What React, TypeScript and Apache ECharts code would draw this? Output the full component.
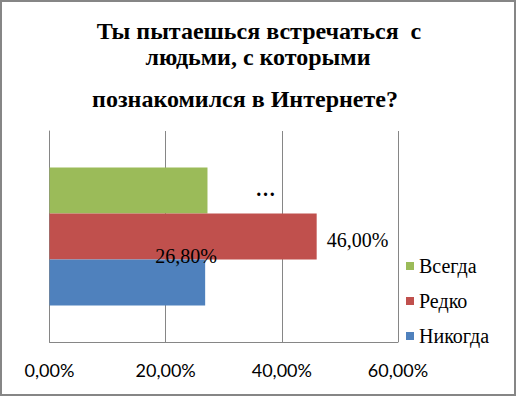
import React, { useEffect, useRef } from "react";
import * as echarts from "echarts";

const categories = ["Q"];
const seriesNames = ["Всегда", "Редко", "Никогда"];
const seriesColors = ["#9BBB59", "#C0504D", "#4F81BD"];
const valAlways = [27.2];
const valRarely = [46.0];
const valNever = [26.8];
const titleLines = ["Ты пытаешься встречаться  с", "людьми, с которыми", "познакомился в Интернете?"];
const axisMin = 0;
const axisMax = 60;
const axisStep = 20;

const pct = (v: number) => v.toFixed(2).replace(".", ",") + "%";

export default function App() {
  const ref = useRef<HTMLDivElement>(null);
  useEffect(() => {
    if (!ref.current) return;
    const chart = echarts.init(ref.current, undefined, { renderer: "svg" });
    const serif = "Liberation Serif";
    const labelFont = { fontFamily: serif, fontSize: 20, color: "#000" };
    chart.setOption({
      animation: false,
      backgroundColor: "#fff",
      graphic: [
        {
          type: "rect",
          shape: { x: 1, y: 1, width: 514, height: 394 },
          style: { fill: "none", stroke: "#868686", lineWidth: 2 },
          silent: true,
        },
        ...titleLines.map((t, i) => ({
          type: "text",
          x: [259, 258, 245][i],
          y: [31, 57, 99][i],
          style: {
            text: t,
            fontFamily: serif,
            fontWeight: "bold",
            fontSize: 24,
            fill: "#000",
            align: "center",
            verticalAlign: "middle",
          },
        })),
      ],
      legend: {
        orient: "vertical",
        left: 401,
        top: 251,
        data: seriesNames,
        icon: "rect",
        itemWidth: 8,
        itemHeight: 8,
        itemGap: 15,
        textStyle: { fontFamily: serif, fontSize: 20, color: "#000", lineHeight: 20 },
      },
      grid: { left: 49.5, right: 118, top: 131, bottom: 54 },
      xAxis: {
        type: "value",
        min: axisMin,
        max: axisMax,
        interval: axisStep,
        axisLine: { show: true, lineStyle: { color: "#868686" } },
        axisTick: { show: false },
        splitLine: { show: true, lineStyle: { color: "#868686" } },
        axisLabel: {
          formatter: (v: number) => pct(v),
          fontFamily: "Lato",
          fontSize: 18,
          color: "#000",
          margin: 19,
        },
      },
      yAxis: {
        type: "category",
        data: categories,
        inverse: true,
        axisLine: { show: true, lineStyle: { color: "#868686" } },
        axisTick: { show: false },
        axisLabel: { show: false },
      },
      series: [
        {
          name: seriesNames[0],
          type: "bar",
          data: valAlways,
          barWidth: 46,
          barGap: "0%",
          itemStyle: { color: seriesColors[0] },
          label: {
            show: true,
            position: "right",
            distance: 5,
            offset: [43, -2],
            formatter: () => "…",
            ...labelFont,
            fontWeight: "bold",
          },
        },
        {
          name: seriesNames[1],
          type: "bar",
          data: valRarely,
          barWidth: 46,
          barGap: "0%",
          itemStyle: { color: seriesColors[1] },
          label: {
            show: true,
            position: "right",
            distance: 10,
            offset: [0, 3],
            formatter: (p: any) => pct(p.value),
            ...labelFont,
          },
        },
        {
          name: seriesNames[2],
          type: "bar",
          data: valNever,
          barWidth: 46,
          barGap: "0%",
          itemStyle: { color: seriesColors[2] },
          label: {
            show: true,
            position: "right",
            distance: 5,
            offset: [-55, -27],
            formatter: (p: any) => pct(p.value),
            ...labelFont,
          },
        },
      ],
    });
    return () => chart.dispose();
  }, []);
  return (
    <div
      ref={ref}
      style={{ position: "fixed", left: 0, top: 0, width: 516, height: 396 }}
    />
  );
}
